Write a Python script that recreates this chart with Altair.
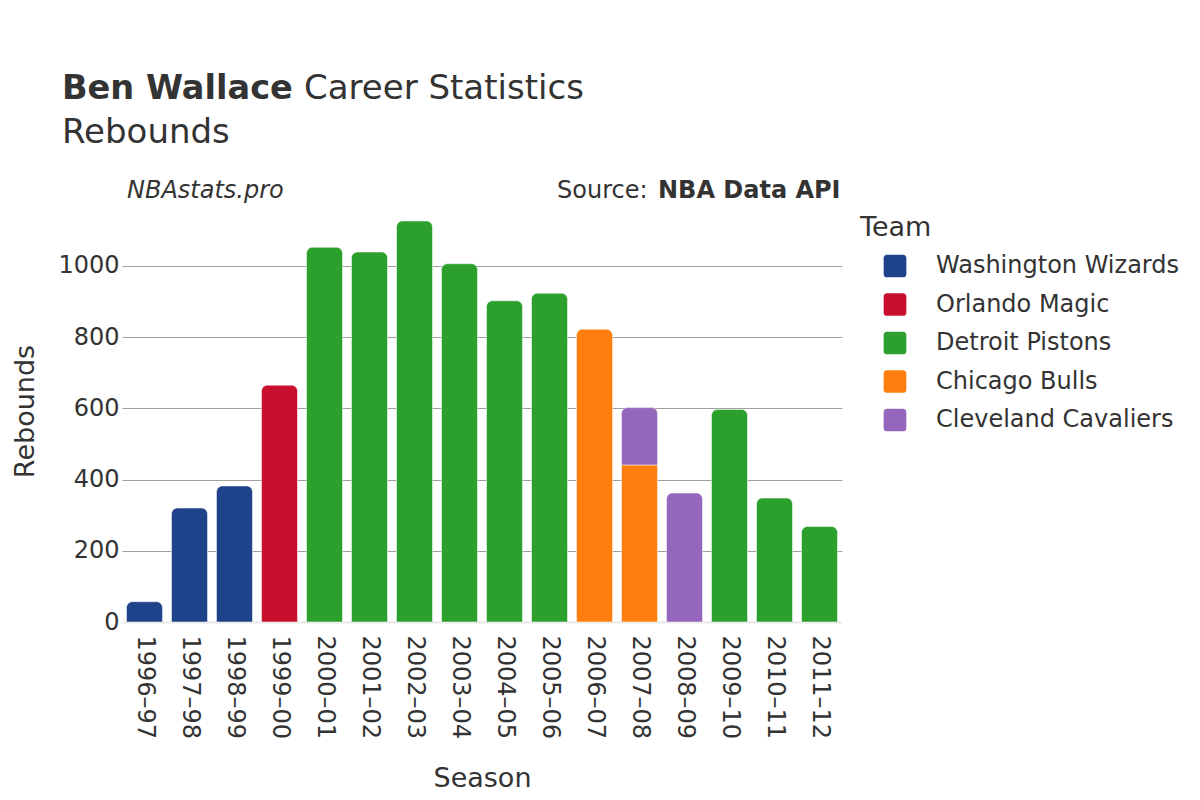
import altair as alt
import pandas as pd

season_order = ["1996–97", "1997–98", "1998–99", "1999–00", "2000–01", "2001–02",
                "2002–03", "2003–04", "2004–05", "2005–06", "2006–07", "2007–08",
                "2008–09", "2009–10", "2010–11", "2011–12"]

teams = ["Washington Wizards", "Orlando Magic", "Detroit Pistons",
         "Chicago Bulls", "Cleveland Cavaliers"]
team_colors = ["#1f438a", "#c8102e", "#2ca02c", "#ff7f0e", "#9467bd"]

row_season = ["1996–97", "1997–98", "1998–99", "1999–00", "2000–01", "2001–02",
              "2002–03", "2003–04", "2004–05", "2005–06", "2006–07", "2007–08",
              "2007–08", "2008–09", "2009–10", "2010–11", "2011–12"]
row_team = ["Washington Wizards", "Washington Wizards", "Washington Wizards",
            "Orlando Magic", "Detroit Pistons", "Detroit Pistons", "Detroit Pistons",
            "Detroit Pistons", "Detroit Pistons", "Detroit Pistons", "Chicago Bulls",
            "Chicago Bulls", "Cleveland Cavaliers", "Cleveland Cavaliers",
            "Detroit Pistons", "Detroit Pistons", "Detroit Pistons"]
row_rebounds = [57, 320, 382, 665, 1052, 1039, 1126, 1006, 902, 923, 822,
                441, 161, 362, 597, 348, 268]
row_order = [0, 0, 0, 0, 0, 0, 0, 0, 0, 0, 0, 0, 1, 0, 0, 0, 0]

y_ticks = [0, 200, 400, 600, 800, 1000]

title_bold = "Ben Wallace"
title_rest = "Career Statistics"
title_line2 = "Rebounds"
site_text = "NBAstats.pro"
source_label = "Source:"
source_name = "NBA Data API"

df = pd.DataFrame({"Season": row_season, "Team": row_team,
                   "Rebounds": row_rebounds, "ord": row_order})

FONT = "DejaVu Sans"
TXT = "#333333"

rounded_square = ("M-0.72,-1H0.72A0.28,0.28,0,0,1,1,-0.72V0.72A0.28,0.28,0,0,1,0.72,1"
                  "H-0.72A0.28,0.28,0,0,1,-1,0.72V-0.72A0.28,0.28,0,0,1,-0.72,-1Z")

base = alt.Chart(df).transform_stack(
    stack="Rebounds", groupby=["Season"], as_=["y0", "y1"],
    sort=[alt.SortField("ord", order="ascending")]
).transform_joinaggregate(
    top="max(y1)", groupby=["Season"]
).transform_calculate(
    is_top="datum.y1 === datum.top"
)

enc = dict(
    x=alt.X("Season:N", sort=season_order,
            scale=alt.Scale(paddingInner=0.2, paddingOuter=0.1),
            axis=alt.Axis(title="Season", labelAngle=90, labelFontSize=24,
                          labelPadding=13, labelColor=TXT, titleFontSize=27,
                          titleColor=TXT, titleFontWeight="normal",
                          titleBaseline="alphabetic", titleY=164,
                          domain=False, ticks=False, grid=False)),
    y=alt.Y("y0:Q", scale=alt.Scale(domain=[0, 1185], nice=False),
            axis=alt.Axis(title="Rebounds", values=y_ticks, format="d",
                          labelFontSize=24, labelColor=TXT, labelPadding=3,
                          titleFontSize=27, titleColor=TXT,
                          titleFontWeight="normal", titleAngle=-90,
                          titleBaseline="alphabetic", titleAlign="center",
                          titleX=-89, titleY=211,
                          domain=False, ticks=False, grid=True,
                          gridColor={"condition": {"test": "datum.value === 0", "value": "#e8e8e8"}, "value": "#a0a0a0"},
                          gridWidth={"condition": {"test": "datum.value === 0", "value": 2}, "value": 1})),
    y2="y1:Q",
    color=alt.Color("Team:N", scale=alt.Scale(domain=teams, range=team_colors),
                    legend=alt.Legend(orient="none", legendX=738, legendY=15,
                                      title="Team", titleFontSize=27,
                                      titleColor=TXT, titleFontWeight="normal",
                                      labelFontSize=24, labelColor=TXT,
                                      symbolType=rounded_square, symbolSize=515,
                                      symbolOffset=23, labelOffset=29,
                                      symbolStrokeWidth=0, rowPadding=14.5,
                                      titlePadding=12, padding=0,
                                      labelLimit=400)),
)

bars_top = base.transform_filter("datum.is_top").mark_bar(
    cornerRadiusTopLeft=6, cornerRadiusTopRight=6, stroke="white", strokeWidth=0.5
).encode(**enc)
bars_low = base.transform_filter("!datum.is_top").mark_bar(
    stroke="white", strokeWidth=0.5
).encode(**enc)


def label(text, x, y, size, weight="normal", style="normal"):
    return alt.Chart(pd.DataFrame({"t": [text]})).mark_text(
        align="left", baseline="alphabetic", fontSize=size, fontWeight=weight,
        fontStyle=style, color=TXT, font=FONT
    ).encode(x=alt.value(x), y=alt.value(y), text="t:N")


texts = [
    label(title_bold, -60, -101, 33.6, weight="bold"),
    label(title_rest, 182, -101, 34),
    label(title_line2, -60, -57, 34),
    label(site_text, 5, -2, 24, style="italic"),
    label(source_label, 435, -2, 24),
    label(source_name, 536, -2, 24, weight="bold"),
]

chart = alt.layer(bars_low, bars_top, *texts).properties(
    width=720, height=422,
    autosize=alt.AutoSizeParams(type="none"),
    padding={"left": 114, "top": 192, "right": 350, "bottom": 170},
).configure(font=FONT).configure_view(stroke=None)

chart.save("out.html", embed_options={"renderer": "svg", "actions": False})
